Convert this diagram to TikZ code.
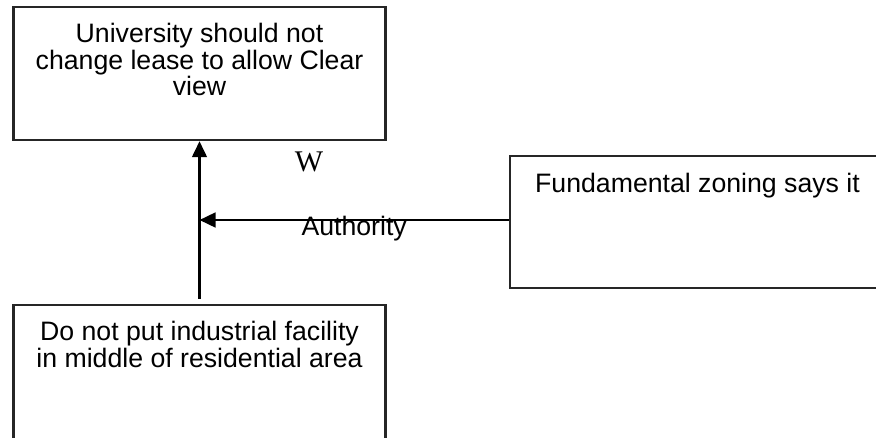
\documentclass[tikz,border=0pt]{standalone}
\usepackage{fontspec}
\setmainfont{Liberation Sans}
\newfontfamily\timesfont{Liberation Serif}
\usetikzlibrary{arrows.meta,positioning}

\begin{document}
\begin{tikzpicture}[x=0.75pt,y=-0.75pt,->,>={Triangle[length=12pt,width=11pt]},line width=1.9pt,
  box/.style={shape=rectangle, draw=black!85, line width=1.8pt, inner sep=0pt, minimum width=279pt},
  boxtext/.style={align=center, font=\fontsize{20}{20}\selectfont, inner sep=0pt}]
\useasboundingbox (0,0) rectangle (876,437);
\node[box, minimum height=99.75pt] (claim) at (199.5,73.5) {};
\node[boxtext, below=12pt of claim.north] (claimtext) {University should not\\change lease to allow Clear\\view};
\node[box, minimum height=110.25pt] (data) at (199.5,378.5) {};
\node[boxtext, below=12pt of data.north] (datatext) {Do not put industrial facility\\in middle of residential area};
\node[box, minimum width=281.25pt, minimum height=99pt] (warrant) at (697.5,222) {};
\node[boxtext, below=12.5pt of warrant.north] (warranttext) {Fundamental zoning says it};
\node[inner sep=0pt, font=\timesfont\fontsize{22.5}{22.5}\selectfont] (wlabel) at (309,162) {W};
\coordinate (join) at (199.5,220);
\path (data) edge[shorten <=3.75pt] (claim)
	(warrant.west |- join) edge node[midway, anchor=base, yshift=-11.25pt, boxtext] (auth) {Authority} (join);
\end{tikzpicture}
\end{document}
